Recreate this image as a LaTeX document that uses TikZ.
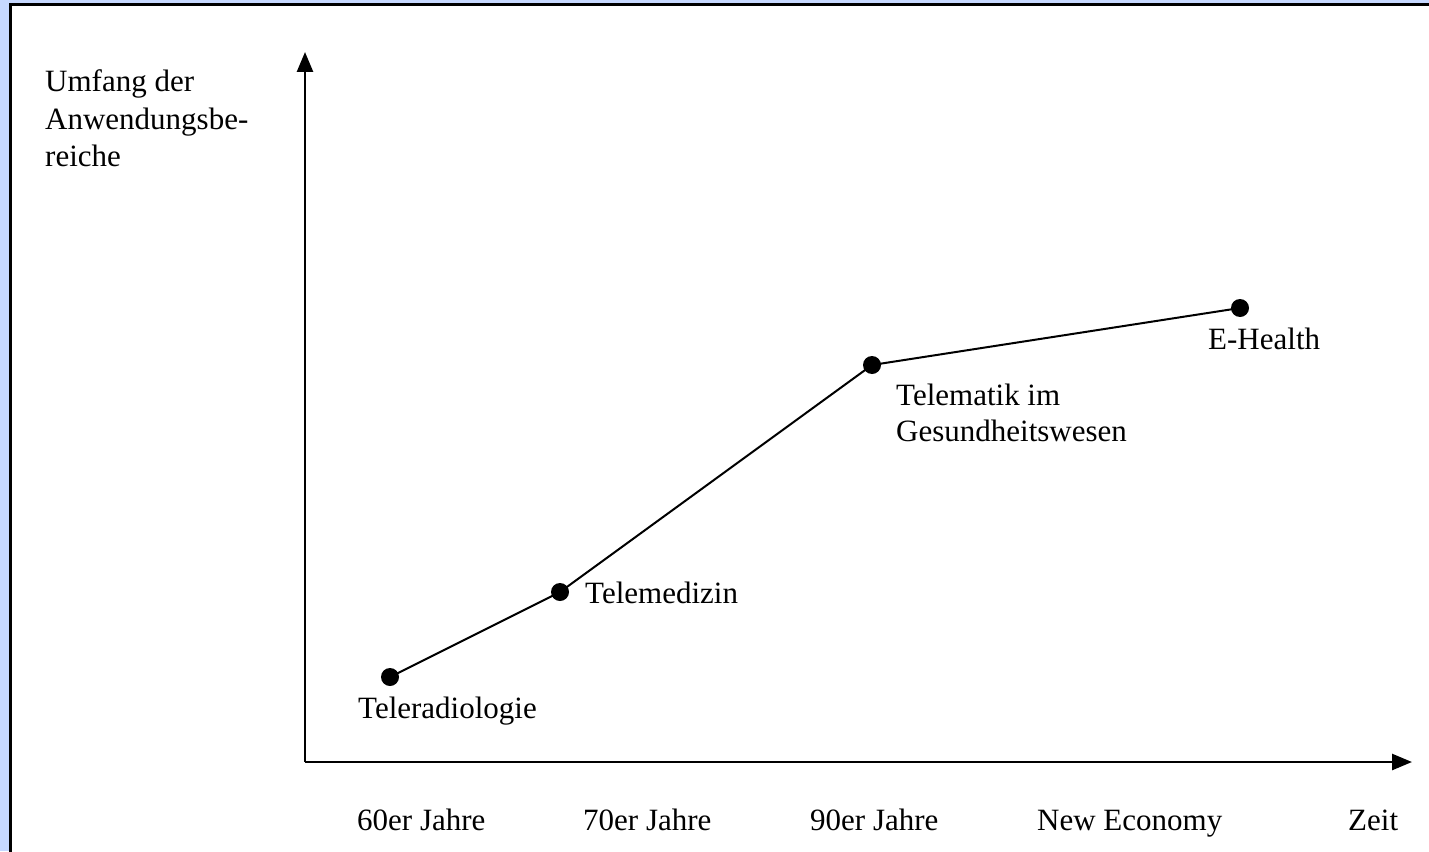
\documentclass[tikz,border=0pt]{standalone}
\usepackage{fontspec}
\setmainfont{Liberation Serif}
\usetikzlibrary{arrows.meta}
\definecolor{bgblue}{RGB}{198,216,255}
\tikzset{
  lbl/.style={anchor=base west, inner sep=0pt, font=\fontsize{31}{37}\selectfont},
  dot/.style={circle, fill=black, inner sep=0pt, minimum size=18pt},
  axis/.style={line width=2.6pt, -{Triangle[length=20pt,width=16pt]}},
  curve/.style={line width=2pt}
}
\begin{document}
\begin{tikzpicture}[x=1pt,y=-1pt]
\useasboundingbox (0,0) rectangle (1429,851);
\fill[bgblue] (0,0) rectangle (1429,851);
\begin{scope}
\clip (0,0) rectangle (1429,851);
\draw[line width=3pt, fill=white] (10.5,5) rectangle (1445,870);
\end{scope}
% axes
\coordinate (O) at (305,762);
\coordinate (Ytip) at (305,52);
\coordinate (Xtip) at (1412,762);
\draw[axis] (O) -- (Ytip);
\draw[axis] (O) -- (Xtip);
% y label
\node[lbl] (yl1) at (45,92) {Umfang der};
\node[lbl] (yl2) at (45,129) {Anwendungsbe-};
\node[lbl] (yl3) at (45,166) {reiche};
% points
\node[dot] (p1) at (390,677) {};
\node[dot] (p2) at (560,592) {};
\node[dot] (p3) at (872,365) {};
\node[dot] (p4) at (1240,308) {};
\draw[curve] (p1.center) -- (p2.center) -- (p3.center) -- (p4.center);
% point labels
\node[lbl] (t1) at (358,718) {Teleradiologie};
\node[lbl] (t2) at (585,603) {Telemedizin};
\node[lbl] (t3a) at (896,405) {Telematik im};
\node[lbl] (t3b) at (896,441) {Gesundheitswesen};
\node[lbl] (t4) at (1208,349) {E-Health};
% x labels
\node[lbl] (x1) at (357,830) {60er Jahre};
\node[lbl] (x2) at (583,830) {70er Jahre};
\node[lbl] (x3) at (810,830) {90er Jahre};
\node[lbl] (x4) at (1037,830) {New Economy};
\node[lbl] (x5) at (1348,830) {Zeit};
\end{tikzpicture}
\end{document}
